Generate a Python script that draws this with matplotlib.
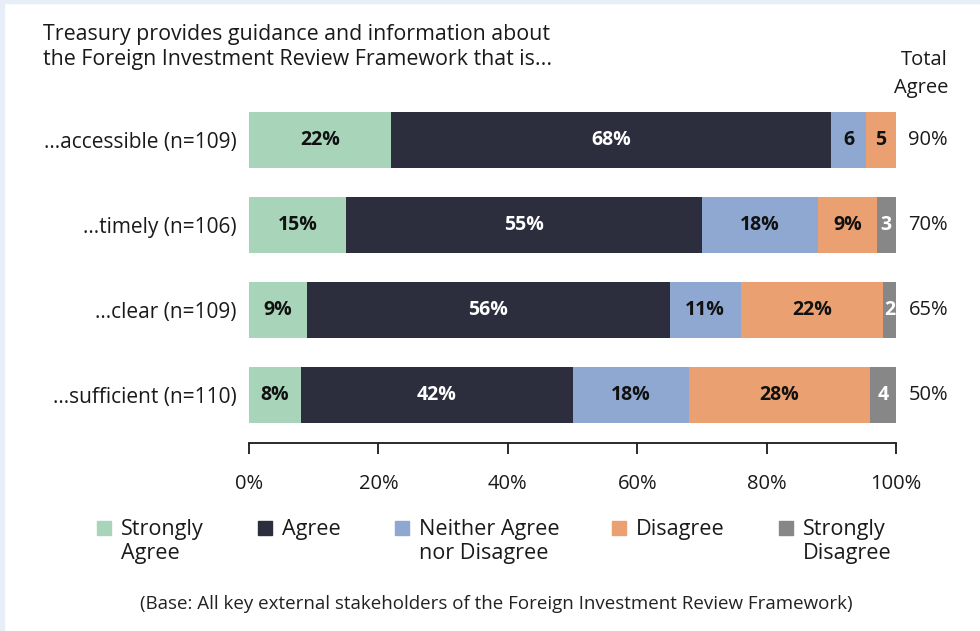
import matplotlib
matplotlib.use('Agg')
import matplotlib.pyplot as plt
import matplotlib.patches as mpatches
from matplotlib.transforms import blended_transform_factory
import numpy as np

plt.rcParams.update({
    'font.family': ['Open Sans', 'DejaVu Sans'],
    'font.size': 14,
})

# ============================================================
# Data
# ============================================================
rows = ["...accessible (n=109)", "...timely (n=106)", "...clear (n=109)", "...sufficient (n=110)"]
series = ["Strongly\nAgree", "Agree", "Neither Agree\nnor Disagree", "Disagree", "Strongly\nDisagree"]
colors = ['#a8d5b9', '#2c2e3e', '#8ea8d1', '#eaa070', '#878787']
text_colors = ['#111111', 'white', '#111111', '#111111', 'white']

strongly_agree = [22, 15, 9, 8]
agree = [68, 55, 56, 42]
neither = [5.3, 18, 11, 18]
disagree = [4.7, 9, 22, 28]
strongly_disagree = [0, 3, 2, 4]

seg_labels = [
    ["22%", "15%", "9%", "8%"],
    ["68%", "55%", "56%", "42%"],
    ["6", "18%", "11%", "18%"],
    ["5", "9%", "22%", "28%"],
    ["", "3", "2", "4"],
]
total_agree = ["90%", "70%", "65%", "50%"]

title = "Treasury provides guidance and information about\nthe Foreign Investment Review Framework that is..."
footnote = "(Base: All key external stakeholders of the Foreign Investment Review Framework)"

# ============================================================
# Figure
# ============================================================
W, H = 980, 631
fig = plt.figure(figsize=(W / 100, H / 100), dpi=100)

# thin frame on top / left
fig.patches.append(mpatches.Rectangle((0, 1 - 3 / H), 1, 3 / H, transform=fig.transFigure,
                                      color='#e8eef8', zorder=0))
fig.patches.append(mpatches.Rectangle((0, 0), 4 / W, 1, transform=fig.transFigure,
                                      color='#e8eef8', zorder=0))

ax_l, ax_r = 249 / W, 896 / W
ax_top, ax_bot = 1 - 91.5 / H, 1 - 443 / H
ax = fig.add_axes([ax_l, ax_bot, ax_r - ax_l, ax_top - ax_bot])

data = [strongly_agree, agree, neither, disagree, strongly_disagree]
y = np.arange(len(rows))
left = np.zeros(len(rows))
for k, vals in enumerate(data):
    vals = np.array(vals, dtype=float)
    ax.barh(y, vals, left=left, height=0.66, color=colors[k], linewidth=0)
    for i in range(len(rows)):
        if seg_labels[k][i]:
            ax.text(left[i] + vals[i] / 2, y[i], seg_labels[k][i], ha='center', va='center',
                    color=text_colors[k], fontsize=14, fontweight='bold')
    left += vals

ax.set_xlim(0, 100)
ax.set_ylim(3.57, -0.57)
ax.set_yticks(y)
ax.set_yticklabels(rows, fontsize=15, color='#1a1a1a')
ax.tick_params(axis='y', length=0, pad=9)
ax.set_xticks([0, 20, 40, 60, 80, 100])
ax.set_xticklabels(['0%', '20%', '40%', '60%', '80%', '100%'], fontsize=14.5, color='#1a1a1a')
ax.tick_params(axis='x', direction='out', length=8, width=1.3, pad=14, color='#1a1a1a')
for s in ['left', 'top', 'right']:
    ax.spines[s].set_visible(False)
ax.spines['bottom'].set_linewidth(1.3)
ax.spines['bottom'].set_color('#1a1a1a')

# total agree column
tr = blended_transform_factory(fig.transFigure, ax.transData)
for i, t in enumerate(total_agree):
    ax.text(948 / W, y[i], t, transform=tr, ha='right', va='center', fontsize=14.5, color='#1a1a1a')
fig.text(948 / W, 1 - 74 / H, "Total\nAgree", ha='right', va='center', fontsize=14.5,
         color='#1a1a1a', linespacing=1.5)

# title
fig.text(43 / W, 1 - 47 / H, title, ha='left', va='center', fontsize=15.4, color='#1a1a1a',
         linespacing=1.2)

# legend
leg_x = [97, 258, 395, 612, 779]
for k, name in enumerate(series):
    fig.patches.append(mpatches.Rectangle((leg_x[k] / W, 1 - 535 / H), 14 / W, 14 / H,
                                          transform=fig.transFigure, color=colors[k]))
    fig.text((leg_x[k] + 24) / W, 1 - 519 / H, name, ha='left', va='top', fontsize=15.6,
             color='#1a1a1a', linespacing=1.18)

fig.text(496 / W, 1 - 604 / H, footnote, ha='center', va='center', fontsize=13.5, color='#222222')

fig.savefig('out.png', dpi=100)
